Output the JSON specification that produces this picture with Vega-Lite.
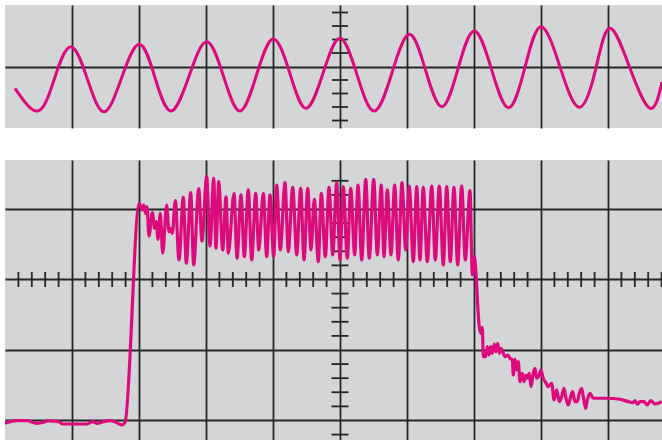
{
  "$schema": "https://vega.github.io/schema/vega-lite/v6.json",
  "padding": {"left": 5, "top": 5, "right": 0, "bottom": 0},
  "background": "white",
  "spacing": 32,
  "config": {
    "view": {"fill": "#d4d5d7", "stroke": null},
    "axis": {"grid": true, "gridColor": "#262626", "gridWidth": 1.8, "gridOpacity": 1, "labels": false, "ticks": false, "domain": false, "title": null}
  },
  "vconcat": [
    {
      "width": 657,
      "height": 123,
      "encoding": {
        "x": {"field": "x", "type": "quantitative", "scale": {"domain": [-5, 4.806], "nice": false, "zero": false}, "axis": {"values": [-4, -3, -2, -1, 0, 1, 2, 3, 4]}},
        "y": {"field": "y", "type": "quantitative", "scale": {"domain": [-0.911, 0.911], "nice": false, "zero": false}, "axis": {"values": [0]}}
      },
      "layer": [
        {
          "data": {"values": [
            {"x": 0, "y": -0.8}, {"x": 0, "y": -0.6}, {"x": 0, "y": -0.4}, {"x": 0, "y": -0.2},
            {"x": 0, "y": 0.2}, {"x": 0, "y": 0.4}, {"x": 0, "y": 0.6}, {"x": 0, "y": 0.8}
          ]},
          "mark": {"type": "tick", "orient": "horizontal", "size": 16, "thickness": 1.8, "color": "#262626", "opacity": 1}
        },
        {
          "data": {"values": [
            {"x": -4.851, "y": -0.323}, {"x": -4.507, "y": -0.659}, {"x": -4.264, "y": -0.184}, {"x": -4.019, "y": 0.293},
            {"x": -3.769, "y": -0.188}, {"x": -3.522, "y": -0.670}, {"x": -3.261, "y": -0.170}, {"x": -2.996, "y": 0.329},
            {"x": -2.761, "y": -0.166}, {"x": -2.522, "y": -0.659}, {"x": -2.254, "y": -0.145}, {"x": -1.990, "y": 0.367},
            {"x": -1.739, "y": -0.145}, {"x": -1.493, "y": -0.659}, {"x": -1.246, "y": -0.126}, {"x": -0.996, "y": 0.407},
            {"x": -0.746, "y": -0.107}, {"x": -0.507, "y": -0.619}, {"x": -0.254, "y": -0.101}, {"x": 0.0, "y": 0.418},
            {"x": 0.254, "y": -0.121}, {"x": 0.512, "y": -0.659}, {"x": 0.776, "y": -0.092}, {"x": 1.034, "y": 0.477},
            {"x": 1.279, "y": -0.059}, {"x": 1.522, "y": -0.596}, {"x": 1.761, "y": -0.034}, {"x": 2.004, "y": 0.526},
            {"x": 2.261, "y": -0.041}, {"x": 2.518, "y": -0.610}, {"x": 2.761, "y": -0.010}, {"x": 3.0, "y": 0.590},
            {"x": 3.284, "y": -0.007}, {"x": 3.572, "y": -0.604}, {"x": 3.821, "y": -0.019}, {"x": 4.030, "y": 0.566},
            {"x": 4.328, "y": -0.027}, {"x": 4.627, "y": -0.619}, {"x": 4.806, "y": -0.230}
          ]},
          "mark": {"type": "line", "interpolate": "natural", "color": "#dc0a7d", "strokeWidth": 3, "clip": true}
        }
      ]
    },
    {
      "width": 657,
      "height": 280,
      "encoding": {
        "x": {"field": "x", "type": "quantitative", "scale": {"domain": [-5, 4.806], "nice": false, "zero": false}, "axis": {"values": [-4, -3, -2, -1, 0, 1, 2, 3, 4]}},
        "y": {"field": "y", "type": "quantitative", "scale": {"domain": [-2.277, 1.695], "nice": false, "zero": false}, "axis": {"values": [-2, -1, 0, 1]}}
      },
      "layer": [
        {
          "data": {"values": [
            {"x": -4.8, "y": 0}, {"x": -4.6, "y": 0}, {"x": -4.4, "y": 0}, {"x": -4.2, "y": 0},
            {"x": -3.8, "y": 0}, {"x": -3.6, "y": 0}, {"x": -3.4, "y": 0}, {"x": -3.2, "y": 0},
            {"x": -2.8, "y": 0}, {"x": -2.6, "y": 0}, {"x": -2.4, "y": 0}, {"x": -2.2, "y": 0},
            {"x": -1.8, "y": 0}, {"x": -1.6, "y": 0}, {"x": -1.4, "y": 0}, {"x": -1.2, "y": 0},
            {"x": -0.8, "y": 0}, {"x": -0.6, "y": 0}, {"x": -0.4, "y": 0}, {"x": -0.2, "y": 0},
            {"x": 0.2, "y": 0}, {"x": 0.4, "y": 0}, {"x": 0.6, "y": 0}, {"x": 0.8, "y": 0},
            {"x": 1.2, "y": 0}, {"x": 1.4, "y": 0}, {"x": 1.6, "y": 0}, {"x": 1.8, "y": 0},
            {"x": 2.2, "y": 0}, {"x": 2.4, "y": 0}, {"x": 2.6, "y": 0}, {"x": 2.8, "y": 0},
            {"x": 3.2, "y": 0}, {"x": 3.4, "y": 0}, {"x": 3.6, "y": 0}, {"x": 3.8, "y": 0},
            {"x": 4.2, "y": 0}, {"x": 4.4, "y": 0}, {"x": 4.6, "y": 0}, {"x": 4.8, "y": 0}
          ]},
          "mark": {"type": "tick", "orient": "vertical", "size": 15, "thickness": 1.8, "color": "#262626", "opacity": 1}
        },
        {
          "data": {"values": [
            {"x": 0, "y": -2.2}, {"x": 0, "y": -1.8}, {"x": 0, "y": -1.6}, {"x": 0, "y": -1.4}, {"x": 0, "y": -1.2},
            {"x": 0, "y": -0.8}, {"x": 0, "y": -0.6}, {"x": 0, "y": -0.4}, {"x": 0, "y": -0.2},
            {"x": 0, "y": 0.2}, {"x": 0, "y": 0.4}, {"x": 0, "y": 0.6}, {"x": 0, "y": 0.8},
            {"x": 0, "y": 1.2}, {"x": 0, "y": 1.4}
          ]},
          "mark": {"type": "tick", "orient": "horizontal", "size": 17, "thickness": 1.8, "color": "#262626", "opacity": 1}
        },
        {
          "data": {"values": [
            {"x": -5.0, "y": -2.040}, {"x": -4.925, "y": -2.017}, {"x": -4.825, "y": -2.003}, {"x": -4.676, "y": -2.003},
            {"x": -4.527, "y": -2.040}, {"x": -4.452, "y": -2.031}, {"x": -4.354, "y": -2.007}, {"x": -4.204, "y": -2.017},
            {"x": -4.130, "y": -2.050}, {"x": -3.781, "y": -2.050}, {"x": -3.691, "y": -2.017}, {"x": -3.631, "y": -2.040},
            {"x": -3.533, "y": -2.017}, {"x": -3.433, "y": -2.003}, {"x": -3.358, "y": -2.017}, {"x": -3.258, "y": -2.064},
            {"x": -3.209, "y": -2.031}, {"x": -2.996, "y": 1.081},
            {"x": -2.951, "y": 0.986}, {"x": -2.930, "y": 1.057}, {"x": -2.900, "y": 0.939}, {"x": -2.881, "y": 1.033},
            {"x": -2.851, "y": 0.617}, {"x": -2.801, "y": 0.948}, {"x": -2.766, "y": 0.726}, {"x": -2.742, "y": 0.820},
            {"x": -2.716, "y": 0.570}, {"x": -2.682, "y": 0.939}, {"x": -2.646, "y": 0.372}, {"x": -2.587, "y": 1.057},
            {"x": -2.552, "y": 0.678}, {"x": -2.527, "y": 0.726}, {"x": -2.503, "y": 0.655}, {"x": -2.458, "y": 1.118},
            {"x": -2.403, "y": 0.277}, {"x": -2.339, "y": 1.166}, {"x": -2.294, "y": 0.230}, {"x": -2.228, "y": 1.231},
            {"x": -2.184, "y": 0.206}, {"x": -2.109, "y": 1.288}, {"x": -2.060, "y": 0.546}, {"x": -1.990, "y": 1.458},
            {"x": -1.940, "y": 0.475}, {"x": -1.885, "y": 1.435}, {"x": -1.851, "y": 0.443}, {"x": -1.810, "y": 1.387},
            {"x": -1.751, "y": 0.418}, {"x": -1.701, "y": 1.174}, {"x": -1.667, "y": 0.372}, {"x": -1.582, "y": 1.223},
            {"x": -1.537, "y": 0.301}, {"x": -1.478, "y": 1.199}, {"x": -1.428, "y": 0.323}, {"x": -1.369, "y": 1.270},
            {"x": -1.318, "y": 0.277}, {"x": -1.258, "y": 1.223}, {"x": -1.213, "y": 0.418}, {"x": -1.145, "y": 1.223},
            {"x": -1.094, "y": 0.323}, {"x": -1.045, "y": 1.199}, {"x": -0.990, "y": 0.323}, {"x": -0.945, "y": 1.340},
            {"x": -0.891, "y": 0.418}, {"x": -0.821, "y": 1.373},
            {"x": -0.772, "y": 0.394}, {"x": -0.706, "y": 1.308}, {"x": -0.646, "y": 0.348}, {"x": -0.587, "y": 1.294},
            {"x": -0.537, "y": 0.277}, {"x": -0.482, "y": 1.294}, {"x": -0.433, "y": 0.418}, {"x": -0.384, "y": 1.138},
            {"x": -0.324, "y": 0.252}, {"x": -0.279, "y": 1.223}, {"x": -0.219, "y": 0.323}, {"x": -0.164, "y": 1.308},
            {"x": -0.109, "y": 0.348}, {"x": -0.049, "y": 1.373}, {"x": 0.0, "y": 0.277}, {"x": 0.049, "y": 1.316},
            {"x": 0.109, "y": 0.301}, {"x": 0.160, "y": 1.294}, {"x": 0.219, "y": 0.348}, {"x": 0.269, "y": 1.340},
            {"x": 0.324, "y": 0.277}, {"x": 0.384, "y": 1.421}, {"x": 0.437, "y": 0.301}, {"x": 0.503, "y": 1.421},
            {"x": 0.557, "y": 0.348}, {"x": 0.616, "y": 1.340}, {"x": 0.657, "y": 0.323}, {"x": 0.706, "y": 1.270},
            {"x": 0.761, "y": 0.348}, {"x": 0.816, "y": 1.340}, {"x": 0.870, "y": 0.277}, {"x": 0.925, "y": 1.373},
            {"x": 0.981, "y": 0.418}, {"x": 1.034, "y": 1.326}, {"x": 1.094, "y": 0.252}, {"x": 1.145, "y": 1.316},
            {"x": 1.194, "y": 0.277}, {"x": 1.243, "y": 1.308}, {"x": 1.303, "y": 0.252}, {"x": 1.369, "y": 1.326},
            {"x": 1.422, "y": 0.277}, {"x": 1.482, "y": 1.326}, {"x": 1.542, "y": 0.206}, {"x": 1.593, "y": 1.316},
            {"x": 1.646, "y": 0.252}, {"x": 1.701, "y": 1.308}, {"x": 1.757, "y": 0.206}, {"x": 1.816, "y": 1.326},
            {"x": 1.870, "y": 0.277}, {"x": 1.940, "y": 1.260}, {"x": 1.975, "y": 0.064}, {"x": 2.004, "y": 0.323},
            {"x": 2.079, "y": -0.670}, {"x": 2.100, "y": -0.763}, {"x": 2.124, "y": -0.678}, {"x": 2.139, "y": -1.095},
            {"x": 2.175, "y": -1.095}, {"x": 2.199, "y": -0.953}, {"x": 2.224, "y": -1.071}, {"x": 2.249, "y": -0.953},
            {"x": 2.273, "y": -1.047}, {"x": 2.303, "y": -0.915}, {"x": 2.328, "y": -1.024}, {"x": 2.354, "y": -0.905},
            {"x": 2.378, "y": -1.047}, {"x": 2.403, "y": -0.976}, {"x": 2.463, "y": -1.095}, {"x": 2.503, "y": -1.071},
            {"x": 2.537, "y": -1.118}, {"x": 2.572, "y": -1.142}, {"x": 2.587, "y": -1.355}, {"x": 2.612, "y": -1.132},
            {"x": 2.637, "y": -1.284}, {"x": 2.661, "y": -1.166}, {"x": 2.687, "y": -1.450}, {"x": 2.721, "y": -1.330},
            {"x": 2.746, "y": -1.450}, {"x": 2.772, "y": -1.355}, {"x": 2.796, "y": -1.401}, {"x": 2.825, "y": -1.330},
            {"x": 2.851, "y": -1.521}, {"x": 2.885, "y": -1.330}, {"x": 2.910, "y": -1.260}, {"x": 2.936, "y": -1.401},
            {"x": 2.970, "y": -1.369}, {"x": 2.996, "y": -1.284}, {"x": 3.034, "y": -1.401}, {"x": 3.075, "y": -1.472},
            {"x": 3.109, "y": -1.521}, {"x": 3.160, "y": -1.472}, {"x": 3.194, "y": -1.709}, {"x": 3.234, "y": -1.567},
            {"x": 3.273, "y": -1.733}, {"x": 3.309, "y": -1.662}, {"x": 3.343, "y": -1.543}, {"x": 3.373, "y": -1.685},
            {"x": 3.407, "y": -1.780}, {"x": 3.443, "y": -1.662}, {"x": 3.473, "y": -1.591}, {"x": 3.507, "y": -1.733},
            {"x": 3.542, "y": -1.733}, {"x": 3.572, "y": -1.614}, {"x": 3.607, "y": -1.543}, {"x": 3.631, "y": -1.662},
            {"x": 3.667, "y": -1.827}, {"x": 3.691, "y": -1.709}, {"x": 3.731, "y": -1.614}, {"x": 3.781, "y": -1.685},
            {"x": 3.831, "y": -1.685}, {"x": 3.981, "y": -1.685}, {"x": 4.179, "y": -1.699}, {"x": 4.303, "y": -1.733},
            {"x": 4.369, "y": -1.748}, {"x": 4.403, "y": -1.719}, {"x": 4.437, "y": -1.770}, {"x": 4.478, "y": -1.733},
            {"x": 4.537, "y": -1.733}, {"x": 4.586, "y": -1.780}, {"x": 4.637, "y": -1.719}, {"x": 4.701, "y": -1.766},
            {"x": 4.801, "y": -1.733}
          ]},
          "mark": {"type": "line", "interpolate": "monotone", "color": "#dc0a7d", "strokeWidth": 3.2, "strokeJoin": "round", "clip": true}
        }
      ]
    }
  ]
}
